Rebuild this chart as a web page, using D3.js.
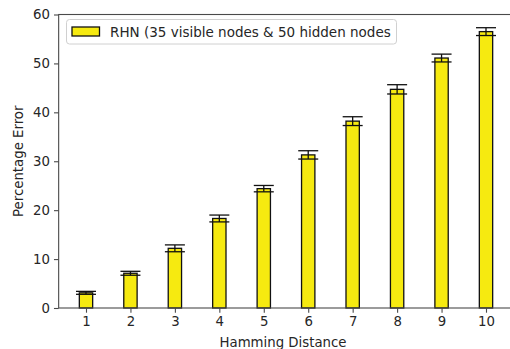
<!DOCTYPE html>
<html>
<head>
<meta charset="utf-8">
<script src="https://cdn.jsdelivr.net/npm/d3@7"></script>
<style>
  body { margin: 0; background: #fff; }
  text { font-family: "DejaVu Sans", sans-serif; fill: #262626; }
</style>
</head>
<body>
<div id="chart"></div>
<script>
// Data
const distances = [1, 2, 3, 4, 5, 6, 7, 8, 9, 10];
const errorMeans = [3.1, 7.1, 12.2, 18.3, 24.4, 31.3, 38.2, 44.7, 51.1, 56.5];
const errorStd = [0.3, 0.4, 0.7, 0.7, 0.65, 0.85, 0.9, 0.95, 0.8, 0.8];
const yTicks = [0, 10, 20, 30, 40, 50, 60];
const legendLabel = "RHN (35 visible nodes & 50 hidden nodes";

const width = 510, height = 349;
const barColor = "#f6ea10";
const axisColor = "#4a4a4a";

const svg = d3.select("#chart").append("svg")
    .attr("width", width)
    .attr("height", height);

// x(1) = 86, x(10) = 486 in the reference
const xScale = d3.scaleLinear().domain([1, 10]).range([86, 486]);
const yScale = d3.scaleLinear().domain([0, 60]).range([308, 14.5]);

const xLeft = xScale(0.385), xRight = xScale(10.615);
const barW = xScale(1.3) - xScale(1);

// Bars
svg.selectAll(".bar")
    .data(distances)
    .enter().append("rect")
    .attr("class", "bar")
    .attr("x", (d) => xScale(d) - barW / 2)
    .attr("width", barW)
    .attr("y", (d, i) => yScale(errorMeans[i]))
    .attr("height", (d, i) => yScale(0) - yScale(errorMeans[i]))
    .attr("fill", barColor)
    .attr("stroke", "#111")
    .attr("stroke-width", 1.3);

// Error bars
const cap = 10;
const err = svg.selectAll(".err")
    .data(distances)
    .enter().append("g")
    .attr("class", "err")
    .attr("stroke", "#111")
    .attr("stroke-width", 1.3);

err.append("line")
    .attr("x1", (d) => xScale(d)).attr("x2", (d) => xScale(d))
    .attr("y1", (d, i) => yScale(errorMeans[i] - errorStd[i]))
    .attr("y2", (d, i) => yScale(errorMeans[i] + errorStd[i]));
err.append("line")
    .attr("x1", (d) => xScale(d) - cap).attr("x2", (d) => xScale(d) + cap)
    .attr("y1", (d, i) => yScale(errorMeans[i] + errorStd[i]))
    .attr("y2", (d, i) => yScale(errorMeans[i] + errorStd[i]));
err.append("line")
    .attr("x1", (d) => xScale(d) - cap).attr("x2", (d) => xScale(d) + cap)
    .attr("y1", (d, i) => yScale(errorMeans[i] - errorStd[i]))
    .attr("y2", (d, i) => yScale(errorMeans[i] - errorStd[i]));

// Axes
const xAxis = svg.append("g")
    .attr("transform", `translate(0,${yScale(0)})`)
    .call(d3.axisBottom(xScale).tickValues(distances).tickSize(4.7).tickPadding(4).tickFormat(d3.format("d")));
const yAxis = svg.append("g")
    .attr("transform", `translate(${xLeft},0)`)
    .call(d3.axisLeft(yScale).tickValues(yTicks).tickSize(4.7).tickPadding(4));

[xAxis, yAxis].forEach((g) => {
    g.select(".domain").remove();
    g.selectAll("line").attr("stroke", axisColor).attr("stroke-width", 1.1);
    g.selectAll("text")
        .style("font-family", "DejaVu Sans, sans-serif")
        .style("font-size", "13.3px")
        .attr("fill", "#262626");
});

// Spines
svg.append("rect")
    .attr("x", xLeft)
    .attr("y", yScale(60))
    .attr("width", xRight - xLeft)
    .attr("height", yScale(0) - yScale(60))
    .attr("fill", "none")
    .attr("stroke", axisColor)
    .attr("stroke-width", 1.1);

// Axis labels
svg.append("text")
    .attr("x", (xLeft + xRight) / 2 - 3)
    .attr("y", 346.5)
    .attr("text-anchor", "middle")
    .style("font-size", "13.3px")
    .text("Hamming Distance");

svg.append("text")
    .attr("transform", `translate(22.5,${(yScale(0) + yScale(60)) / 2}) rotate(-90)`)
    .attr("text-anchor", "middle")
    .style("font-size", "13.3px")
    .text("Percentage Error");

// Legend
const legend = svg.append("g");
legend.append("rect")
    .attr("x", 66.5).attr("y", 19.5)
    .attr("width", 330).attr("height", 24.5)
    .attr("rx", 3)
    .attr("fill", "#fff").attr("fill-opacity", 0.8)
    .attr("stroke", "#d0d0d0");
legend.append("rect")
    .attr("x", 72).attr("y", 27)
    .attr("width", 27.5).attr("height", 9)
    .attr("fill", barColor)
    .attr("stroke", "#111")
    .attr("stroke-width", 1.3);
legend.append("text")
    .attr("x", 110).attr("y", 36.5)
    .style("font-size", "13.5px")
    .text(legendLabel);
</script>
</body>
</html>
